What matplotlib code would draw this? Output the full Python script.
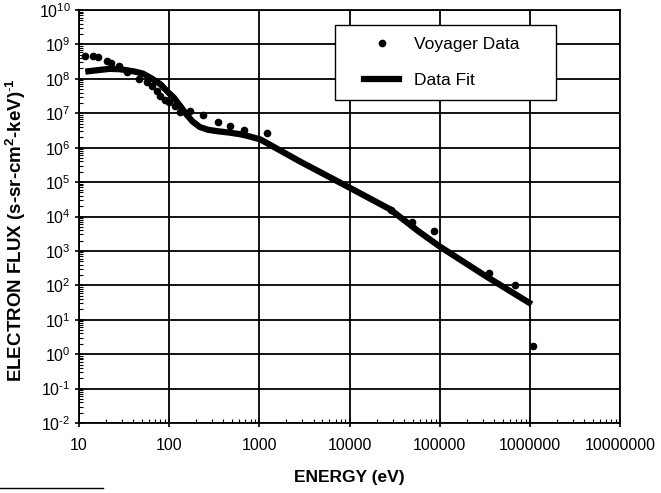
import numpy as np
import matplotlib
matplotlib.use("Agg")
import matplotlib.pyplot as plt
from matplotlib.ticker import LogLocator, FixedLocator, FixedFormatter, NullFormatter
from matplotlib.lines import Line2D
from matplotlib.legend_handler import HandlerLine2D

plt.rcParams['font.family'] = ['Liberation Sans', 'DejaVu Sans']
plt.rcParams['mathtext.fontset'] = 'custom'
plt.rcParams['mathtext.rm'] = 'Liberation Sans'
plt.rcParams['mathtext.it'] = 'Liberation Sans'
plt.rcParams['mathtext.bf'] = 'Liberation Sans:bold'
plt.rcParams['axes.unicode_minus'] = False

# Voyager data (log10 energy in eV, log10 flux)
data_logE = [1.07, 1.15, 1.21, 1.31, 1.36, 1.44, 1.53, 1.66, 1.75, 1.81, 1.86, 1.90,
             1.95, 2.00, 2.06, 2.12, 2.23, 2.38, 2.54, 2.68, 2.83, 3.08,
             4.46, 4.69, 4.94, 5.55, 5.83, 6.03]
data_logF = [8.65, 8.65, 8.62, 8.53, 8.45, 8.38, 8.19, 8.00, 7.90, 7.80, 7.66, 7.51,
             7.39, 7.32, 7.22, 7.03, 7.07, 6.95, 6.76, 6.64, 6.52, 6.43,
             4.18, 3.85, 3.59, 2.36, 2.02, 0.25]

# Data fit curve
fit_logE = [1.07, 1.20, 1.34, 1.45, 1.53, 1.62, 1.71, 1.80, 1.90, 2.00, 2.05, 2.12,
            2.19, 2.26, 2.34, 2.43, 2.53, 2.66, 2.79, 2.90, 3.01, 3.12, 3.45, 3.97,
            4.45, 4.77, 5.00, 5.51, 6.02]
fit_logF = [8.21, 8.25, 8.29, 8.28, 8.25, 8.21, 8.15, 8.02, 7.85, 7.58, 7.46, 7.22,
            6.97, 6.76, 6.60, 6.52, 6.48, 6.44, 6.39, 6.32, 6.24, 6.08, 5.60, 4.88,
            4.21, 3.56, 3.13, 2.27, 1.45]

x_ticks = [10, 100, 1000, 10000, 100000, 1000000, 10000000]
x_ticklabels = ['10', '100', '1000', '10000', '100000', '1000000', '10000000']
y_exps = list(range(-2, 11))
legend_labels = ['Voyager Data', 'Data Fit']

data_E = 10 ** np.array(data_logE)
data_F = 10 ** np.array(data_logF)
fit_E = 10 ** np.array(fit_logE)
fit_F = 10 ** np.array(fit_logF)


def exp_label(e):
    if e < 0:
        return r'$10^{\text{-}%d}$' % (-e)
    return r'$10^{%d}$' % e


fig = plt.figure(figsize=(6.61, 4.93), dpi=100)
ax = fig.add_axes([79/661, 1 - 423/493, 541/661, 413/493])

ax.set_xscale('log')
ax.set_yscale('log')
ax.set_xlim(10, 1e7)
ax.set_ylim(1e-2, 1e10)

ax.plot(fit_E, fit_F, color='black', lw=4.5, solid_capstyle='butt',
        solid_joinstyle='round', zorder=3)
ax.plot(data_E, data_F, 'o', color='black', ms=4.5, zorder=4)

ax.xaxis.set_major_locator(FixedLocator(x_ticks))
ax.xaxis.set_major_formatter(FixedFormatter(x_ticklabels))
ax.xaxis.set_minor_locator(LogLocator(base=10, subs=np.arange(2, 10), numticks=20))
ax.xaxis.set_minor_formatter(NullFormatter())
ax.yaxis.set_major_locator(FixedLocator([10.0 ** e for e in y_exps]))
ax.yaxis.set_major_formatter(FixedFormatter([exp_label(e) for e in y_exps]))
ax.yaxis.set_minor_locator(LogLocator(base=10, subs=np.arange(2, 10), numticks=20))
ax.yaxis.set_minor_formatter(NullFormatter())

ax.tick_params(which='major', direction='inout', length=6, width=1.2, labelsize=11.5, color='black')
ax.tick_params(which='minor', direction='in', length=3, width=0.8)
ax.tick_params(axis='x', pad=8)
ax.tick_params(axis='y', pad=3)

ax.grid(True, which='major', color='black', lw=1.3)
ax.set_axisbelow(True)
for s in ax.spines.values():
    s.set_linewidth(1.3)

ax.set_xlabel('ENERGY (eV)', fontsize=12.5, fontweight='bold', labelpad=12)
ax.set_ylabel(r'ELECTRON FLUX (s-sr-cm$^{\mathbf{2}}$-keV)$^{\mathbf{\text{-}1}}$', fontsize=13.5,
              fontweight='bold')
ax.yaxis.set_label_coords(-0.094, 0.467)

handles = [Line2D([], [], marker='o', color='black', ls='none', ms=4.5),
           Line2D([], [], color='black', lw=4.5)]
leg = ax.legend(handles, legend_labels, loc='upper left',
                bbox_to_anchor=(0.473, 0.797, 0.409, 0.167), mode='expand',
                fontsize=12.5, frameon=True, fancybox=False, framealpha=1,
                edgecolor='black', handlelength=3.0, handletextpad=0.85,
                borderpad=0.7, labelspacing=1.2, borderaxespad=0,
                handler_map={Line2D: HandlerLine2D(xpad=1.0)})
leg.get_frame().set_linewidth(1.0)
leg.set_zorder(10)

fig.add_artist(Line2D([0, 103/661], [1 - 488/493, 1 - 488/493], color='black', lw=1,
                      transform=fig.transFigure))

fig.savefig('out.png', dpi=100)
